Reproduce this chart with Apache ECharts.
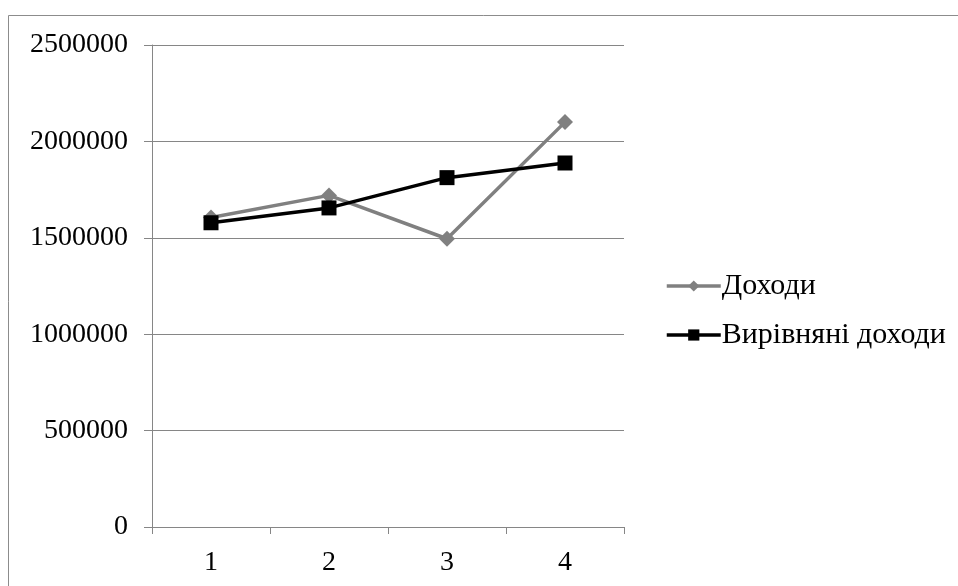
<!DOCTYPE html>
<html><head><meta charset="utf-8">
<script src="https://cdn.jsdelivr.net/npm/echarts@6/dist/echarts.min.js"></script>
<style>html,body{margin:0;padding:0;background:#fff}#c{width:958px;height:586px}</style>
</head><body><div id="c"></div>
<script>
const categories = ['1', '2', '3', '4'];
const incomeName = 'Доходи';
const incomeValues = [1605000, 1720000, 1495000, 2100000];
const alignedName = 'Вирівняні доходи';
const alignedValues = [1578000, 1655000, 1812000, 1888000];
const yTicks = [0, 500000, 1000000, 1500000, 2000000, 2500000];

const font = 'Liberation Serif';
const chart = echarts.init(document.getElementById('c'), null, {renderer: 'canvas'});
chart.setOption({
  animation: false,
  backgroundColor: '#fff',
  graphic: [{
    type: 'rect', shape: {x: 8.5, y: 15.5, width: 1000, height: 1000},
    style: {fill: 'none', stroke: '#8c8c8c', lineWidth: 1}, silent: true, z: -10
  }],
  grid: {left: 152, right: 334, top: 45, bottom: 59, containLabel: false},
  legend: {
    orient: 'vertical', left: 660, top: 266, itemGap: 19,
    itemWidth: 54, itemHeight: 14,
    textStyle: {fontFamily: font, fontSize: 30, color: '#000', padding: [0, 0, 0, -4]},
    data: [
      {name: incomeName, lineStyle: {width: 3.5, color: '#808080'}},
      {name: alignedName, lineStyle: {width: 3.5, color: '#000'}}
    ]
  },
  xAxis: {
    type: 'category', data: categories, boundaryGap: true,
    axisLine: {lineStyle: {color: '#868686', width: 1}},
    axisTick: {show: true, length: 7, lineStyle: {color: '#868686'}},
    axisLabel: {fontFamily: font, fontSize: 28, color: '#000', margin: 22}
  },
  yAxis: {
    type: 'value', min: yTicks[0], max: yTicks[yTicks.length - 1], interval: 500000,
    axisLine: {show: true, lineStyle: {color: '#868686', width: 1}},
    axisTick: {show: true, inside: false, length: 8, lineStyle: {color: '#868686'}},
    axisLabel: {fontFamily: font, fontSize: 28, color: '#000', margin: 24,
      formatter: v => String(v)},
    splitLine: {lineStyle: {color: '#868686', width: 1}}
  },
  series: [{
    name: incomeName, type: 'line', data: incomeValues,
    symbol: 'diamond', symbolSize: 16,
    lineStyle: {color: '#808080', width: 3.5},
    itemStyle: {color: '#808080'}
  }, {
    name: alignedName, type: 'line', data: alignedValues,
    symbol: 'rect', symbolSize: 15,
    lineStyle: {color: '#000', width: 3.5},
    itemStyle: {color: '#000'}
  }]
});
</script></body></html>
